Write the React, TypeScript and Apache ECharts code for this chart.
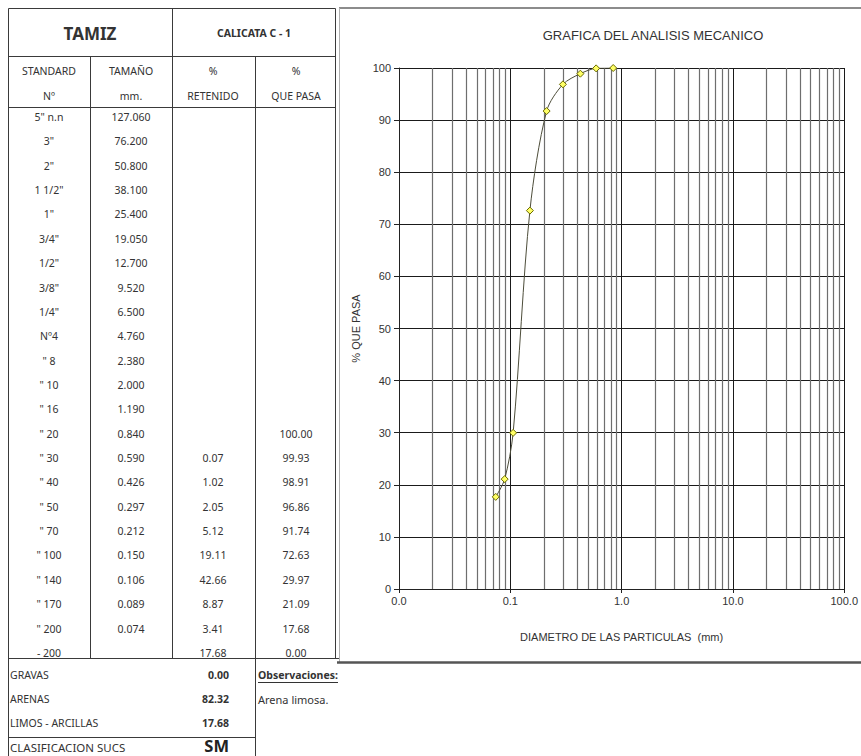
import React, { useEffect, useRef } from 'react';
import * as echarts from 'echarts';

// ---- Data ----
const STANDARD = ['5" n.n', '3"', '2"', '1 1/2"', '1"', '3/4"', '1/2"', '3/8"', '1/4"', 'Nº4', '" 8', '" 10', '" 16', '" 20', '" 30', '" 40', '" 50', '" 70', '" 100', '" 140', '" 170', '" 200', '- 200'];
const SIZE_MM: (number | null)[] = [127.06, 76.2, 50.8, 38.1, 25.4, 19.05, 12.7, 9.52, 6.5, 4.76, 2.38, 2.0, 1.19, 0.84, 0.59, 0.426, 0.297, 0.212, 0.15, 0.106, 0.089, 0.074, null];
const RETAINED: (number | null)[] = [null, null, null, null, null, null, null, null, null, null, null, null, null, null, 0.07, 1.02, 2.05, 5.12, 19.11, 42.66, 8.87, 3.41, 17.68];
const PASSING: (number | null)[] = [null, null, null, null, null, null, null, null, null, null, null, null, null, 100.0, 99.93, 98.91, 96.86, 91.74, 72.63, 29.97, 21.09, 17.68, 0.0];

const SUMMARY_LABELS = ['GRAVAS', 'ARENAS', 'LIMOS - ARCILLAS'];
const SUMMARY_VALUES = [0.0, 82.32, 17.68];
const CLASSIFICATION = 'SM';
const OBSERVATION = 'Arena limosa.';

const X_DECADES = [0.01, 0.1, 1, 10];
const X_MINOR_MULTIPLIERS = [2, 3, 4, 5, 6, 7, 8, 9];

const TABLE_FONT = '"Noto Sans", "Open Sans", sans-serif';
const CHART_FONT = '"Liberation Sans", Arial, sans-serif';
const TXT = '#333333';
const BORDER = '#3a3a3a';

function txt(text: string, x: number, y: number, o: any = {}) {
  const align = o.align || 'center';
  return {
    type: 'text',
    silent: true,
    z: 10,
    style: {
      text,
      x,
      y,
      fill: o.fill || TXT,
      fontSize: o.size || 10.5,
      fontWeight: o.weight || 'normal',
      fontFamily: o.family || TABLE_FONT,
      textAlign: align,
      align,
      textVerticalAlign: 'middle',
      verticalAlign: 'middle',
    },
  };
}

function ln(x1: number, y1: number, x2: number, y2: number, stroke = BORDER, w = 1) {
  return {
    type: 'line',
    silent: true,
    z: 10,
    shape: { x1, y1, x2, y2 },
    style: { stroke, lineWidth: w },
  };
}

export default function App() {
  const ref = useRef<HTMLDivElement>(null);

  useEffect(() => {
    const chart = echarts.init(ref.current!, null, { renderer: 'svg' });

    // table geometry
    const L = 8.5, C1 = 90.5, C2 = 172.5, C3 = 255.5, R = 335.5;
    const TOP = 8.5, H1 = 56.5, H2 = 107.5, DEND = 658.5, SEP = 737.5, BOT = 760;
    const ROW0 = 117, ROWH = 24.36;
    const cx1 = 49, cx2 = 131, cx3 = 213, cx4 = 296;

    const g: any[] = [];
    // table lines
    g.push(ln(L, TOP, R, TOP));
    g.push(ln(L, TOP, L, BOT));
    g.push(ln(R, TOP, R, DEND));
    g.push(ln(C2, TOP, C2, DEND));
    g.push(ln(C1, H1, C1, DEND));
    g.push(ln(C3, H1, C3, BOT));
    g.push(ln(L, H1, R, H1));
    g.push(ln(L, H2, R, H2));
    g.push(ln(L, DEND, 339, DEND));
    g.push(ln(L, SEP, C3, SEP));

    // chart frame
    g.push(ln(339, 8, 861, 8, '#8c8c8c', 2));
    g.push(ln(339.5, 8, 339.5, 662, '#b0b0b0', 1));
    g.push(ln(337, 662.5, 861, 662.5, '#555555', 2.5));

    // headers
    g.push(txt('TAMIZ', 90, 33, { size: 17, weight: 'bold' }));
    g.push(txt('CALICATA C - 1', 254, 33, { size: 10.5, weight: 'bold' }));
    g.push(txt('STANDARD', cx1, 71));
    g.push(txt('Nº', cx1, 96));
    g.push(txt('TAMAÑO', cx2, 71));
    g.push(txt('mm.', cx2, 96));
    g.push(txt('%', cx3, 71));
    g.push(txt('RETENIDO', cx3, 96));
    g.push(txt('%', cx4, 71));
    g.push(txt('QUE PASA', cx4, 96));

    // data rows
    STANDARD.forEach((s, i) => {
      const y = ROW0 + i * ROWH;
      g.push(txt(s, cx1, y));
      const sz = SIZE_MM[i];
      if (sz !== null) g.push(txt(sz.toFixed(3), cx2, y));
      const rt = RETAINED[i];
      if (rt !== null) g.push(txt(rt.toFixed(2), cx3, y));
      const ps = PASSING[i];
      if (ps !== null) g.push(txt(ps.toFixed(2), cx4, y));
    });

    // summary
    SUMMARY_LABELS.forEach((s, i) => {
      const y = 675 + i * 24;
      g.push(txt(s, 10, y, { align: 'left' }));
      g.push(txt(SUMMARY_VALUES[i].toFixed(2), 229, y, { align: 'right', weight: 'bold' }));
    });
    g.push(txt('CLASIFICACION SUCS', 10, 747, { align: 'left', size: 11.5 }));
    g.push(txt(CLASSIFICATION, 229, 745, { align: 'right', size: 16.5, weight: 'bold', fill: '#222' }));
    g.push(txt('Observaciones:', 258, 675, { align: 'left', weight: 'bold' }));
    g.push(ln(258, 682.5, 338, 682.5, TXT, 1));
    g.push(txt(OBSERVATION, 258, 699, { align: 'left', size: 11 }));

    // chart data
    const points: [number, number][] = [];
    SIZE_MM.forEach((s, i) => {
      const p = PASSING[i];
      if (s !== null && p !== null) points.push([s, p]);
    });
    points.sort((a, b) => a[0] - b[0]);

    const minorLines: any[] = [];
    X_DECADES.forEach((d) => X_MINOR_MULTIPLIERS.forEach((m) => minorLines.push({ xAxis: d * m })));

    chart.setOption({
      animation: false,
      backgroundColor: '#ffffff',
      title: {
        text: 'GRAFICA DEL ANALISIS MECANICO',
        left: 648,
        top: 24,
        textAlign: 'center',
        textStyle: { fontSize: 13, fontWeight: 'normal', color: TXT, fontFamily: CHART_FONT },
      },
      grid: { left: 399, right: 13, top: 68, bottom: 167 },
      xAxis: {
        type: 'log',
        logBase: 10,
        min: 0.01,
        max: 100,
        name: 'DIAMETRO DE LAS PARTICULAS  (mm)',
        nameLocation: 'middle',
        nameGap: 42,
        nameTextStyle: { fontSize: 11, color: TXT, fontFamily: CHART_FONT },
        axisLine: { show: true, onZero: false, lineStyle: { color: '#222', width: 1 } },
        axisTick: { show: true, length: 4, inside: false, lineStyle: { color: '#222' } },
        minorTick: { show: false },
        axisLabel: {
          formatter: (v: number) => v.toFixed(1),
          margin: 6,
          fontSize: 11,
          color: TXT,
          fontFamily: CHART_FONT,
          showMinLabel: true,
          showMaxLabel: true,
        },
        splitLine: { show: true, lineStyle: { color: '#1a1a1a', width: 1 } },
      },
      yAxis: {
        type: 'value',
        min: 0,
        max: 100,
        interval: 10,
        name: '% QUE PASA',
        nameLocation: 'middle',
        nameGap: 36,
        nameRotate: 90,
        nameTextStyle: { fontSize: 11, color: TXT, fontFamily: CHART_FONT },
        axisLine: { show: true, lineStyle: { color: '#222', width: 1 } },
        axisTick: { show: true, length: 5, inside: false, lineStyle: { color: '#222' } },
        axisLabel: { margin: 8, fontSize: 11, color: TXT, fontFamily: CHART_FONT },
        splitLine: { show: true, lineStyle: { color: '#1a1a1a', width: 1 } },
      },
      graphic: { elements: g },
      series: [
        {
          name: 'minor-grid',
          type: 'scatter',
          data: [],
          silent: true,
          z: 1,
          markLine: {
            silent: true,
            symbol: ['none', 'none'],
            label: { show: false },
            lineStyle: { type: 'solid', color: '#6e6e6e', width: 1.2 },
            emphasis: { disabled: true },
            data: minorLines,
          },
        },
        {
          name: '% QUE PASA',
          type: 'line',
          data: points,
          z: 5,
          smooth: 0.3,
          symbol: 'diamond',
          symbolSize: 7,
          showAllSymbol: true,
          lineStyle: { color: '#4d4d3a', width: 1 },
          itemStyle: { color: '#ffff66', borderColor: '#6b6b00', borderWidth: 1 },
        },
      ],
    });

    return () => chart.dispose();
  }, []);

  return (
    <div
      ref={ref}
      style={{ position: 'fixed', left: 0, top: 0, width: 861, height: 756, background: '#fff' }}
    />
  );
}
